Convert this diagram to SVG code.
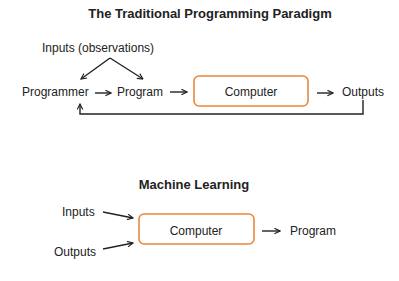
<svg xmlns="http://www.w3.org/2000/svg" width="399" height="281" viewBox="0 0 399 281">
<defs>
<style>
text{font-family:"Liberation Sans",Arial,sans-serif;font-size:12px;fill:#222}
.t{font-weight:bold;font-size:13px;text-anchor:middle}
.box{fill:#fff;stroke:#E8883A;stroke-width:1.6}
.c{fill:none;stroke:#222;stroke-width:1.4}
</style>
<marker id="ah" viewBox="0 0 10 10" refX="9" refY="5" markerWidth="7" markerHeight="7" markerUnits="userSpaceOnUse" orient="auto"><path d="M1,1 L9,5 L1,9" fill="none" stroke="#222" stroke-width="1.6"/></marker>
</defs>
<rect width="399" height="281" fill="#fff"/>
<text class="t" x="210" y="18">The Traditional Programming Paradigm</text>
<text class="t" x="194" y="189">Machine Learning</text>
<g id="inputs-obs"><text x="42" y="52">Inputs (observations)</text></g>
<g id="programmer"><text x="22" y="96">Programmer</text></g>
<g id="program"><text x="117" y="96">Program</text></g>
<g id="computer1"><rect class="box" x="194" y="76" width="114" height="30" rx="5"/><text x="251" y="96" text-anchor="middle">Computer</text></g>
<g id="outputs"><text x="342" y="96">Outputs</text></g>
<g id="ml-inputs"><text x="62" y="216">Inputs</text></g>
<g id="ml-outputs"><text x="54" y="256">Outputs</text></g>
<g id="computer2"><rect class="box" x="139" y="214" width="115" height="30" rx="5"/><text x="196" y="235" text-anchor="middle">Computer</text></g>
<g id="ml-program"><text x="290" y="235">Program</text></g>
<g id="connectors">
<path class="c" d="M110,58 L81,79" marker-end="url(#ah)"/>
<path class="c" d="M110,58 L143,79" marker-end="url(#ah)"/>
<path class="c" d="M95,93 L111,93" marker-end="url(#ah)"/>
<path class="c" d="M170,92 L187,92" marker-end="url(#ah)"/>
<path class="c" d="M317,93 L333,93" marker-end="url(#ah)"/>
<path class="c" d="M363,100 L363,114 L80,114 L80,104" marker-end="url(#ah)"/>
<path class="c" d="M103,212 L133,218" marker-end="url(#ah)"/>
<path class="c" d="M103,249 L133,243" marker-end="url(#ah)"/>
<path class="c" d="M262,231 L280,231" marker-end="url(#ah)"/>
</g>
</svg>
